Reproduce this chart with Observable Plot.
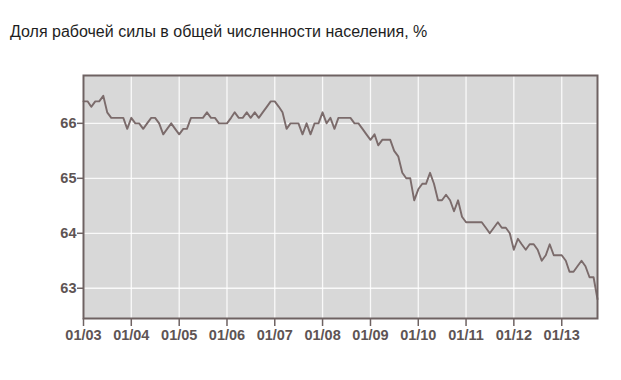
<!DOCTYPE html>
<html><head><meta charset="utf-8">
<script src="https://cdn.jsdelivr.net/npm/d3@7"></script>
<script src="https://cdn.jsdelivr.net/npm/@observablehq/plot@0.6"></script>
<style>
body{margin:0;background:#fff;}
#title{font-family:"Liberation Sans",Arial,sans-serif;font-size:16px;color:#1e1e1e;height:50px;box-sizing:border-box;padding:23px 0 0 10px;line-height:18px;white-space:nowrap;}
#chart svg{display:block;}
</style></head><body>
<div id="title">Доля рабочей силы в общей численности населения, %</div>
<div id="chart"></div>
<script>
// Monthly labour force participation rate, %, Jan 2003 – Oct 2013
const lfpr2003 = [66.4, 66.4, 66.3, 66.4, 66.4, 66.5, 66.2, 66.1, 66.1, 66.1, 66.1, 65.9];
const lfpr2004 = [66.1, 66.0, 66.0, 65.9, 66.0, 66.1, 66.1, 66.0, 65.8, 65.9, 66.0, 65.9];
const lfpr2005 = [65.8, 65.9, 65.9, 66.1, 66.1, 66.1, 66.1, 66.2, 66.1, 66.1, 66.0, 66.0];
const lfpr2006 = [66.0, 66.1, 66.2, 66.1, 66.1, 66.2, 66.1, 66.2, 66.1, 66.2, 66.3, 66.4];
const lfpr2007 = [66.4, 66.3, 66.2, 65.9, 66.0, 66.0, 66.0, 65.8, 66.0, 65.8, 66.0, 66.0];
const lfpr2008 = [66.2, 66.0, 66.1, 65.9, 66.1, 66.1, 66.1, 66.1, 66.0, 66.0, 65.9, 65.8];
const lfpr2009 = [65.7, 65.8, 65.6, 65.7, 65.7, 65.7, 65.5, 65.4, 65.1, 65.0, 65.0, 64.6];
const lfpr2010 = [64.8, 64.9, 64.9, 65.1, 64.9, 64.6, 64.6, 64.7, 64.6, 64.4, 64.6, 64.3];
const lfpr2011 = [64.2, 64.2, 64.2, 64.2, 64.2, 64.1, 64.0, 64.1, 64.2, 64.1, 64.1, 64.0];
const lfpr2012 = [63.7, 63.9, 63.8, 63.7, 63.8, 63.8, 63.7, 63.5, 63.6, 63.8, 63.6, 63.6];
const lfpr2013 = [63.6, 63.5, 63.3, 63.3, 63.4, 63.5, 63.4, 63.2, 63.2, 62.8];

const years = [2003, 2004, 2005, 2006, 2007, 2008, 2009, 2010, 2011, 2012, 2013];
const series = [lfpr2003, lfpr2004, lfpr2005, lfpr2006, lfpr2007, lfpr2008, lfpr2009, lfpr2010, lfpr2011, lfpr2012, lfpr2013];
const xTickLabels = ["01/03","01/04","01/05","01/06","01/07","01/08","01/09","01/10","01/11","01/12","01/13"];
const yTicks = [63, 64, 65, 66];
const yTickLabels = ["63", "64", "65", "66"];

const data = [];
years.forEach((y, i) => series[i].forEach((v, m) => data.push({date: new Date(Date.UTC(y, m, 1)), value: v})));
const tickDates = years.map(y => new Date(Date.UTC(y, 0, 1)));
const labelOf = new Map(tickDates.map((d, i) => [+d, xTickLabels[i]]));
const yLabelOf = new Map(yTicks.map((t, i) => [t, yTickLabels[i]]));

const gridStyle = {stroke: "#ffffff", strokeOpacity: 0.85, strokeWidth: 1.3};
const axisColor = "#6e6262";

const chart = Plot.plot({
  width: 621,
  height: 330,
  marginTop: 25,
  marginLeft: 83,
  marginRight: 24,
  marginBottom: 62,
  style: {fontFamily: "'Liberation Sans', Arial, sans-serif", fontSize: "14.5px", fontWeight: "bold", background: "white"},
  x: {type: "utc", domain: [data[0].date, data[data.length - 1].date]},
  y: {domain: [62.45, 66.87]},
  marks: [
    Plot.frame({fill: "#d8d8d8"}),
    Plot.gridX(tickDates, gridStyle),
    Plot.gridY(yTicks, gridStyle),
    Plot.line(data, {x: "date", y: "value", stroke: "#7b6b6b", strokeWidth: 1.9}),
    Plot.frame({stroke: axisColor, strokeWidth: 2}),
    Plot.axisX(tickDates, {tickFormat: d => labelOf.get(+d), tickSize: 8, tickPadding: 3, label: null, stroke: axisColor, strokeWidth: 1.5, fill: "#5e5454"}),
    Plot.axisY(yTicks, {tickFormat: t => yLabelOf.get(t), tickSize: 6, tickPadding: 1, label: null, stroke: axisColor, strokeWidth: 1.5, fill: "#5e5454"})
  ]
});
document.getElementById("chart").appendChild(chart);
</script>
</body></html>
